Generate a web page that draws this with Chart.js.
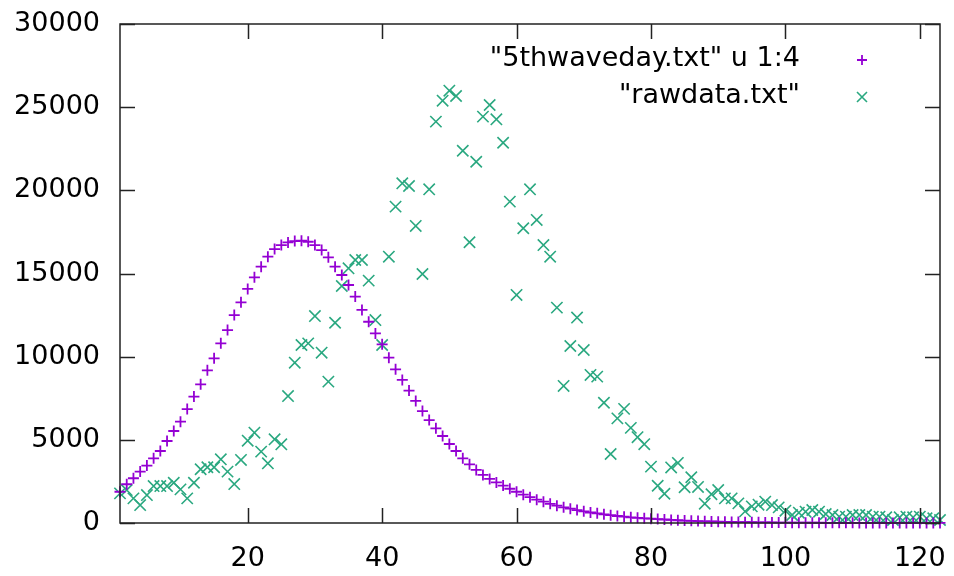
<!DOCTYPE html>
<html>
<head>
<meta charset="utf-8">
<script src="https://cdn.jsdelivr.net/npm/chart.js@4.4.1/dist/chart.umd.min.js"></script>
<style>
  html, body { margin: 0; padding: 0; background: #fff; }
  #wrap { width: 954px; height: 576px; }
</style>
</head>
<body>
<div id="wrap"><canvas id="chart" width="954" height="576"></canvas></div>
<script>
// day numbers start at 1, one value per day
const firstDay = 1;

const fitLabel = '"5thwaveday.txt" u 1:4';
const rawLabel = '"rawdata.txt"';

// fitted curve (column 4)
const fitValues = [
  1880, 2330, 2690, 3090, 3450, 3890, 4330, 4930, 5530, 6090,
  6850, 7600, 8340, 9180, 9900, 10800, 11600, 12500, 13270, 14070,
  14770, 15410, 16010, 16470, 16710, 16870, 16950, 16970, 16910, 16710,
  16410, 15970, 15410, 14910, 14310, 13610, 12810, 12100, 11400, 10740,
  9940, 9240, 8600, 7960, 7340, 6730, 6190, 5690, 5230, 4750,
  4330, 3890, 3530, 3190, 2890, 2650, 2440, 2250, 2060, 1880,
  1700, 1550, 1400, 1280, 1150, 1040, 940, 860, 780, 700,
  630, 580, 520, 470, 420, 380, 340, 310, 280, 260,
  235, 210, 185, 165, 145, 130, 115, 100, 90, 80,
  70, 65, 58, 52, 46, 40, 36, 32, 28, 25,
  22, 20, 18, 16, 14, 12, 11, 10, 9, 8,
  7, 6, 6, 5, 5, 4, 4, 3, 3, 3,
  2, 2, 2
];

// raw daily counts
const rawValues = [
  1780, 1980, 1480, 1080, 1680, 2220, 2220, 2220, 2420, 2020,
  1480, 2420, 3230, 3350, 3350, 3830, 3090, 2340, 3790, 4950,
  5430, 4290, 3590, 5030, 4730, 7630, 9640, 10700, 10800, 12440,
  10240, 8500, 12040, 14250, 15310, 15810, 15810, 14570, 12200, 10700,
  16010, 19020, 20420, 20260, 17860, 14970, 20060, 24130, 25390, 25990,
  25670, 22380, 16880, 21720, 24430, 25130, 24270, 22860, 19320, 13710,
  17720, 20060, 18220, 16710, 16010, 12950, 8240, 10640, 12350, 10400,
  8900, 8800, 7230, 4150, 6290, 6860, 5720, 5160, 4740, 3390,
  2240, 1760, 3340, 3610, 2150, 2750, 2170, 1160, 1730, 1980,
  1480, 1480, 1180, 700, 1000, 1100, 1280, 1080, 940, 740,
  480, 620, 680, 780, 680, 540, 480, 380, 380, 480,
  480, 480, 380, 380, 340, 180, 340, 380, 340, 380,
  280, 280, 180
];

const xTicks = [20, 40, 60, 80, 100, 120];
const yTicks = [0, 5000, 10000, 15000, 20000, 25000, 30000];
const xMin = 1, xMax = 123;
const yMin = 0, yMax = 30000;

const fitColor = '#9400d3';
const rawColor = '#2aa880';
const fontFamily = '"DejaVu Sans", sans-serif';
const fontSize = 27;

function toPoints(values) {
  return values.map((v, i) => ({ x: firstDay + i, y: v }));
}

// no automatic room for overhanging labels, the layout padding handles it
function noLabelPadding(scale) {
  scale.paddingLeft = 0;
  scale.paddingRight = 0;
  scale.paddingTop = 0;
  scale.paddingBottom = 0;
}

// gnuplot style frame with inward ticks on all four sides, plus the key
const gnuplotFrame = {
  id: 'gnuplotFrame',
  afterDraw(chart) {
    const ctx = chart.ctx;
    const area = chart.chartArea;
    const xs = chart.scales.x;
    const ys = chart.scales.y;
    const tick = 15;

    ctx.save();
    ctx.strokeStyle = '#222';
    ctx.lineWidth = 1.5;
    ctx.strokeRect(area.left, area.top, area.right - area.left, area.bottom - area.top);

    ctx.beginPath();
    xTicks.forEach(function (t) {
      const px = Math.round(xs.getPixelForValue(t)) + 0.5;
      ctx.moveTo(px, area.bottom);
      ctx.lineTo(px, area.bottom - tick);
      ctx.moveTo(px, area.top);
      ctx.lineTo(px, area.top + tick);
    });
    yTicks.forEach(function (t) {
      const py = Math.round(ys.getPixelForValue(t)) + 0.5;
      ctx.moveTo(area.left, py);
      ctx.lineTo(area.left + tick, py);
      ctx.moveTo(area.right, py);
      ctx.lineTo(area.right - tick, py);
    });
    ctx.stroke();

    // key, top right, text right aligned with the sample to its right
    const textRight = area.right - 140;
    const markX = area.right - 78;
    const rows = [area.top + 35, area.top + 72];
    ctx.font = fontSize + 'px ' + fontFamily;
    ctx.textAlign = 'right';
    ctx.textBaseline = 'middle';
    ctx.fillStyle = '#000';
    chart.data.datasets.forEach(function (ds, i) {
      const y = rows[i];
      ctx.fillText(ds.label, textRight, y);
      const my = y + 1;
      ctx.strokeStyle = ds.borderColor;
      ctx.lineWidth = ds.pointBorderWidth;
      const r = 5;
      ctx.beginPath();
      if (ds.pointStyle === 'cross') {
        ctx.moveTo(markX - r, my); ctx.lineTo(markX + r, my);
        ctx.moveTo(markX, my - r); ctx.lineTo(markX, my + r);
      } else {
        ctx.moveTo(markX - r, my - r); ctx.lineTo(markX + r, my + r);
        ctx.moveTo(markX - r, my + r); ctx.lineTo(markX + r, my - r);
      }
      ctx.stroke();
    });
    ctx.restore();
  }
};

new Chart(document.getElementById('chart').getContext('2d'), {
  type: 'scatter',
  data: {
    datasets: [{
      label: fitLabel,
      data: toPoints(fitValues),
      pointStyle: 'cross',
      pointRadius: 5.5,
      pointHoverRadius: 5.5,
      pointBorderWidth: 1.8,
      borderColor: fitColor,
      backgroundColor: fitColor,
      clip: false
    }, {
      label: rawLabel,
      data: toPoints(rawValues),
      pointStyle: 'crossRot',
      pointRadius: 8,
      pointHoverRadius: 8,
      pointBorderWidth: 1.6,
      borderColor: rawColor,
      backgroundColor: rawColor,
      clip: false
    }]
  },
  options: {
    responsive: false,
    animation: false,
    events: [],
    layout: { padding: { left: 0, right: 14, top: 24, bottom: 0 } },
    plugins: {
      legend: { display: false },
      tooltip: { enabled: false }
    },
    scales: {
      x: {
        type: 'linear',
        min: xMin,
        max: xMax,
        afterBuildTicks: function (scale) {
          scale.ticks = xTicks.map(v => ({ value: v }));
        },
        afterFit: function (scale) {
          scale.height = 53;
          noLabelPadding(scale);
        },
        grid: { display: false, drawTicks: false },
        border: { display: false },
        ticks: {
          color: '#000',
          padding: 20,
          maxRotation: 0,
          font: { family: fontFamily, size: fontSize },
          callback: v => String(v)
        }
      },
      y: {
        type: 'linear',
        min: yMin,
        max: yMax,
        afterBuildTicks: function (scale) {
          scale.ticks = yTicks.map(v => ({ value: v }));
        },
        afterFit: function (scale) {
          scale.width = 120;
          noLabelPadding(scale);
        },
        grid: { display: false, drawTicks: false },
        border: { display: false },
        ticks: {
          color: '#000',
          padding: 20,
          font: { family: fontFamily, size: fontSize },
          callback: v => String(v)
        }
      }
    }
  },
  plugins: [gnuplotFrame]
});
</script>
</body>
</html>
